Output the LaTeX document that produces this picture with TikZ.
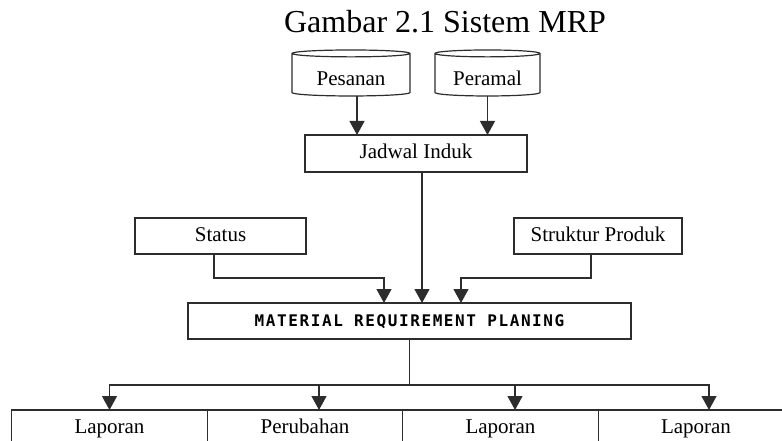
\documentclass[tikz,border=0pt]{standalone}
\usepackage{fontspec}
\setmainfont{Liberation Serif}
\newfontfamily\mrpfont[LetterSpace=10]{DejaVu Sans Mono Bold}
\usepackage{xcolor}
\usepackage{tikz}
\usetikzlibrary{shapes.geometric, arrows.meta, positioning, calc}
\definecolor{lineclr}{RGB}{45,45,45}
\tikzset{
    sysbox/.style={rectangle, draw=lineclr, line width=1.2pt, fill=white,
                   outer sep=0pt, inner sep=0pt, align=center,
                   text height=14pt, text depth=4pt,
                   font=\fontsize{21}{24}\selectfont},
    datastore/.style={cylinder, shape border rotate=90, draw=lineclr,
                      line width=1.2pt, outer sep=0pt, inner sep=0pt, aspect=0.1,
                      text height=22pt, text depth=0pt,
                      font=\fontsize{21}{24}\selectfont},
    reportbox/.style={sysbox, minimum width=195.5pt, minimum height=36pt},
    link/.style={draw=lineclr, line width=1.2pt},
    arrow/.style={link, -{Triangle[width=15pt,length=14pt]}},
}

\begin{document}
\begin{tikzpicture}[x=1pt, y=-1pt]
    \useasboundingbox (0,0) rectangle (782,441);
    \clip (0,0) rectangle (782,441);
    \node[anchor=base, font=\fontsize{32}{36}\selectfont] (title) at (445,33) {Gambar 2.1 Sistem MRP};
    % sumber data
    \node[datastore, minimum width=118pt, minimum height=46pt] (pesanan) at (351,75) {Pesanan};
    \node[datastore, minimum width=105pt, minimum height=46pt] (peramal) at (487.5,75) {Peramal};
    \node[sysbox, minimum width=222pt, minimum height=37pt] (jadwal) at (416,153.5) {Jadwal Induk};
    \node[sysbox, minimum width=171pt, minimum height=36pt] (status) at (220.5,236) {Status};
    \node[sysbox, minimum width=168pt, minimum height=36pt] (struktur) at (598,236) {Struktur Produk};
    \node[sysbox, minimum width=443pt, minimum height=36pt, text height=11pt, text depth=0pt,
          font=\mrpfont\fontsize{16}{18}\selectfont] (mrp) at (409.5,321) {MATERIAL REQUIREMENT PLANING};
    % laporan keluaran
    \node[reportbox] (lap1) at (109.5,428) {Laporan};
    \node[reportbox, right=0pt of lap1] (ubah) {Perubahan};
    \node[reportbox, right=0pt of ubah] (lap2) {Laporan};
    \node[reportbox, right=0pt of lap2] (lap3) {Laporan};
    \coordinate (sj) at (384,278);
    \coordinate (pj) at (461,278);
    \coordinate (hub) at (409.5,385);
    \draw[arrow] ([xshift=6pt]pesanan.south) -- ([xshift=6pt]pesanan.south |- jadwal.north);
    \draw[arrow] (peramal.south) -- (peramal.south |- jadwal.north);
    \draw[arrow] ([xshift=6pt]jadwal.south) -- ([xshift=6pt]jadwal.south |- mrp.north);
    \draw[arrow] ([xshift=-6.5pt]status.south) |- (sj) -- (sj |- mrp.north);
    \draw[arrow] ([xshift=-7pt]struktur.south) |- (pj) -- (pj |- mrp.north);
    \draw[link] (mrp.south) -- (hub);
    \draw[arrow] (hub) -| (lap1.north);
    \draw[arrow] (hub) -| ([xshift=14pt]ubah.north);
    \draw[arrow] (hub) -| ([xshift=14.5pt]lap2.north);
    \draw[arrow] (hub) -| ([xshift=13pt]lap3.north);
\end{tikzpicture}
\end{document}
